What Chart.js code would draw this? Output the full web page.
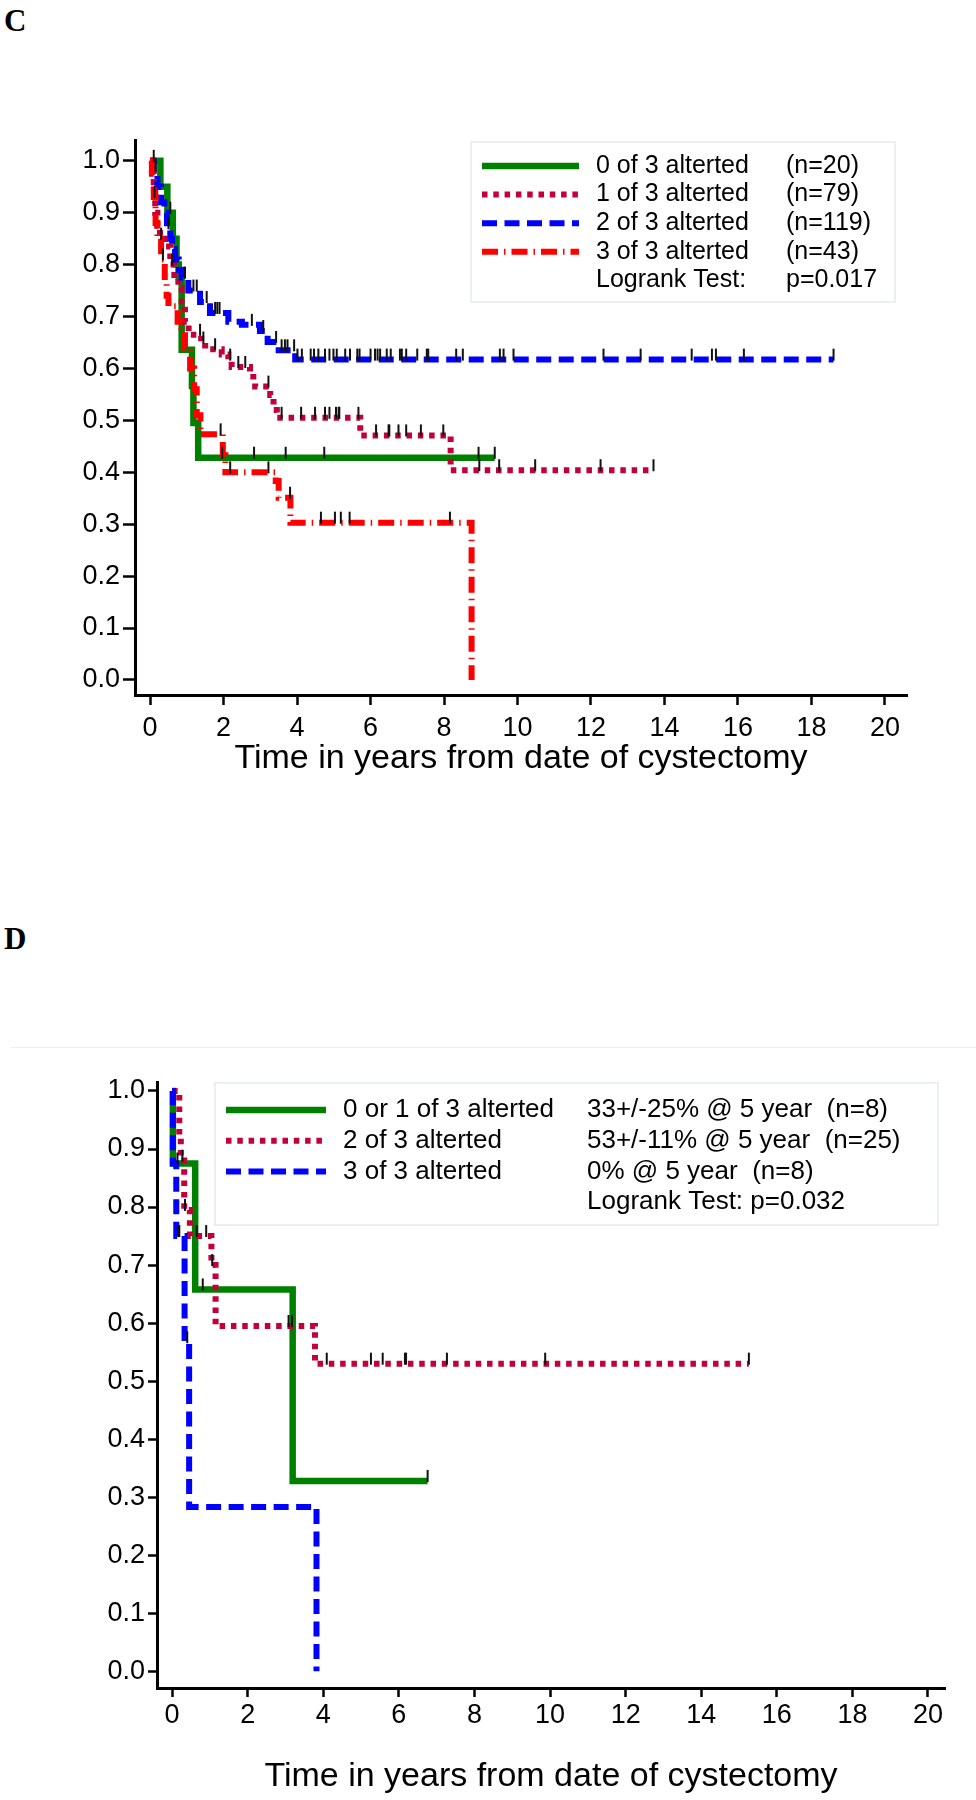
<!DOCTYPE html>
<html>
<head>
<meta charset="utf-8">
<script src="https://cdn.jsdelivr.net/npm/chart.js@4.4.0/dist/chart.umd.min.js"></script>
<style>
  body { margin: 0; background: #fff; }
  #page { position: relative; width: 976px; height: 1800px; background: #fff; overflow: hidden; }
  canvas { position: absolute; left: 0; }
  .panel { position: absolute; left: 4px; font: bold 31px "Liberation Serif", "Times New Roman", serif; color: #000; line-height: 1; }
  .rule { position: absolute; left: 11px; right: 0; top: 1047px; height: 1px; background: #eeeeee; }
</style>
</head>
<body>
<div id="page">
  <div class="panel" style="top:5px">C</div>
  <canvas id="chartC" width="976" height="900" style="top:0"></canvas>
  <div class="panel" style="top:923px">D</div>
  <div class="rule"></div>
  <canvas id="chartD" width="976" height="800" style="top:1000px"></canvas>
</div>
<script>
const FONT = '"Liberation Sans", Arial, Helvetica, sans-serif';

// axis ticks
const yTicks = [0, 0.1, 0.2, 0.3, 0.4, 0.5, 0.6, 0.7, 0.8, 0.9, 1.0];
const xTicks = [0, 2, 4, 6, 8, 10, 12, 14, 16, 18, 20];
const xTitle = "Time in years from date of cystectomy";

// panel C
const cGroups = ["0 of 3 alterted", "1 of 3 alterted", "2 of 3 alterted", "3 of 3 alterted"];
const cCounts = ["(n=20)", "(n=79)", "(n=119)", "(n=43)"];
const cTest = ["Logrank Test:", "p=0.017"];

const c0Time = [0, 0.28, 0.47, 0.62, 0.72, 0.78, 0.86, 1.14, 1.18, 1.31, 9.38];
const c0Surv = [1.0, 0.95, 0.90, 0.85, 0.80, 0.776, 0.636, 0.566, 0.495, 0.428, 0.428];
const c0Cens = [0.1, 0.55, 1.96, 2.83, 3.69, 4.74, 8.94, 9.38];

const c1Time = [0, 0.05, 0.1, 0.14, 0.2, 0.27, 0.4, 0.55, 0.66, 0.77, 0.86, 0.95, 1.05, 1.39, 1.5, 1.95, 2.13, 2.22, 2.72, 2.81, 2.86, 3.27, 3.36, 3.45, 5.72, 8.18, 13.7];
const c1Surv = [1.0, 0.975, 0.95, 0.90, 0.875, 0.85, 0.835, 0.80, 0.78, 0.755, 0.72, 0.69, 0.665, 0.65, 0.637, 0.627, 0.617, 0.603, 0.59, 0.578, 0.565, 0.549, 0.52, 0.505, 0.471, 0.404, 0.404];
const c1Cens = [0.3, 0.6, 1.36, 1.45, 1.77, 2.18, 2.4, 2.59, 3.22, 3.58, 4.11, 4.49, 4.76, 4.88, 5.06, 5.13, 5.15, 5.67, 6.15, 6.49, 6.51, 6.76, 6.97, 7.37, 7.98, 8.96, 9.5, 10.48, 12.26, 13.7];

const c2Time = [0, 0.1, 0.2, 0.3, 0.39, 0.46, 0.55, 0.6, 0.68, 0.78, 0.86, 1.04, 1.36, 1.63, 2.13, 2.5, 2.99, 3.2, 3.5, 3.95, 18.6];
const c2Surv = [1.0, 0.98, 0.95, 0.92, 0.90, 0.87, 0.85, 0.83, 0.81, 0.79, 0.775, 0.75, 0.728, 0.707, 0.69, 0.684, 0.672, 0.651, 0.635, 0.617, 0.617];
const c2Cens = [0.15, 0.5, 0.95, 1.18, 1.27, 1.54, 1.77, 1.83, 1.89, 2.77, 3.08, 3.43, 3.58, 3.67, 3.74, 3.92, 4.01, 4.13, 4.37, 4.46, 4.58, 4.76, 4.88, 4.99, 5.08, 5.31, 5.44, 5.64, 5.70, 6.0, 6.12, 6.19, 6.26, 6.44, 6.55, 6.80, 6.85, 6.97, 7.27, 7.53, 7.57, 8.33, 8.51, 9.52, 9.62, 9.89, 12.34, 13.35, 14.74, 15.29, 15.4, 16.16, 18.6];

const c3Time = [0, 0.05, 0.1, 0.15, 0.2, 0.3, 0.4, 0.45, 0.5, 0.75, 0.85, 0.95, 1.09, 1.2, 1.27, 1.37, 1.98, 2.05, 3.42, 3.5, 3.82, 8.75];
const c3Surv = [1.0, 0.97, 0.93, 0.88, 0.85, 0.81, 0.77, 0.74, 0.72, 0.69, 0.67, 0.64, 0.60, 0.56, 0.51, 0.473, 0.433, 0.40, 0.383, 0.351, 0.303, 0.0];
const c3Cens = [0.12, 0.35, 1.92, 2.18, 3.22, 3.81, 4.65, 5.03, 5.19, 5.43, 8.16];

// panel D
const dGroups = ["0 or 1 of 3 alterted", "2 of 3 alterted", "3 of 3 alterted"];
const dRates = ["33+/-25% @ 5 year  (n=8)", "53+/-11% @ 5 year  (n=25)", "0% @ 5 year  (n=8)"];
const dTest = "Logrank Test: p=0.032";

const d0Time = [0, 0.02, 0.61, 3.19, 6.76];
const d0Surv = [1.0, 0.875, 0.658, 0.328, 0.328];
const d0Cens = [0.14, 0.81, 6.76];

const d1Time = [0, 0.19, 0.23, 0.32, 0.47, 1.04, 1.15, 3.78, 15.26];
const d1Surv = [1.0, 0.92, 0.88, 0.795, 0.75, 0.70, 0.595, 0.53, 0.53];
const d1Cens = [0.27, 0.34, 0.65, 0.9, 1.06, 3.08, 3.17, 4.09, 5.26, 5.57, 6.16, 6.19, 7.27, 9.87, 15.26];

const d2Time = [0, 0.02, 0.11, 0.33, 0.45, 3.82];
const d2Surv = [1.0, 0.875, 0.75, 0.567, 0.283, 0.0];
const d2Cens = [0.16, 0.19, 0.4];

// line looks
const GREEN = { color: "#008000", width: 6.5, dash: [] };
const CRIMSON = { color: "#c2003a", width: 6, dash: [5.5, 5.8] };
const BLUE = { color: "#0000ff", width: 6, dash: [15, 7.5] };
const RED = { color: "#ff0000", width: 6, dash: [16, 6, 1.5, 6] };

// censor mark: short black stroke sitting on top of the curve
const tick = document.createElement("canvas");
tick.width = 4;
tick.height = 26;
const tctx = tick.getContext("2d");
tctx.fillStyle = "#111";
tctx.fillRect(1, 2, 2, 12);

function curve(t, s) {
  return t.map((x, i) => ({ x: x, y: s[i] }));
}

function survAt(t, s, x) {
  let v = s[0];
  for (let i = 0; i < t.length; i++) if (t[i] <= x) v = s[i];
  return v;
}

function marks(c, t, s) {
  return c.map(x => ({ x: x, y: survAt(t, s, x) }));
}

function buildDatasets(groups) {
  const ds = groups.map((g, i) => ({
    data: curve(g.t, g.s),
    borderColor: g.look.color,
    borderWidth: g.look.width,
    borderDash: g.look.dash,
    borderCapStyle: "butt",
    stepped: "before",
    pointRadius: 0,
    fill: false,
    order: 10 - i
  }));
  groups.forEach(g => ds.push({
    data: marks(g.c, g.t, g.s),
    showLine: false,
    pointStyle: tick,
    pointRadius: 5,
    order: 0
  }));
  return ds;
}

function legendPlugin(L) {
  return {
    id: "kmLegend",
    afterDraw(chart) {
      const ctx = chart.ctx;
      ctx.save();
      ctx.strokeStyle = "#e1ebee";
      ctx.lineWidth = 1.5;
      ctx.strokeRect(L.box.x, L.box.y, L.box.w, L.box.h);
      ctx.font = L.fontSize + "px " + FONT;
      ctx.fillStyle = "#000";
      ctx.textBaseline = "middle";
      L.rows.forEach((row, i) => {
        const y = L.rowY + i * L.rowGap;
        if (row.ds !== undefined) {
          const ds = chart.data.datasets[row.ds];
          ctx.save();
          ctx.strokeStyle = ds.borderColor;
          ctx.lineWidth = ds.borderWidth;
          ctx.lineCap = "butt";
          ctx.setLineDash(ds.borderDash || []);
          ctx.beginPath();
          ctx.moveTo(L.lineX0, y);
          ctx.lineTo(L.lineX1, y);
          ctx.stroke();
          ctx.restore();
        }
        if (row.a) ctx.fillText(row.a, L.col1, y);
        if (row.b) ctx.fillText(row.b, L.col2, y);
      });
      ctx.restore();
    }
  };
}

function buildScales(p) {
  const axisGrid = (len) => ({
    display: true, drawOnChartArea: false, drawTicks: true,
    tickLength: len, tickWidth: 2.5, tickColor: "#000", color: "#000"
  });
  return {
    x: {
      type: "linear", min: p.xMin, max: p.xMax,
      afterBuildTicks: a => { a.ticks = xTicks.map(v => ({ value: v })); },
      afterFit: s => { s.height = p.xH; },
      border: { display: true, color: "#000", width: 3 },
      grid: axisGrid(p.xTL),
      ticks: { color: "#000", font: { family: FONT, size: 27 }, padding: p.xPad, maxRotation: 0, autoSkip: false, callback: v => String(v) },
      title: { display: true, text: xTitle, color: "#000", font: { family: FONT, size: 34 }, padding: { top: 0, bottom: p.titlePad } }
    },
    y: {
      type: "linear", min: p.yMin, max: p.yMax,
      afterBuildTicks: a => { a.ticks = yTicks.map(v => ({ value: v })); },
      afterFit: s => { s.width = p.yW; },
      border: { display: true, color: "#000", width: 3 },
      grid: axisGrid(p.yTL),
      ticks: { color: "#000", font: { family: FONT, size: 27 }, padding: p.yPad, autoSkip: false, callback: v => v.toFixed(1) }
    }
  };
}

function makeChart(id, groups, p, legend) {
  return new Chart(document.getElementById(id), {
    type: "line",
    data: { datasets: buildDatasets(groups) },
    options: {
      responsive: false,
      animation: false,
      devicePixelRatio: 1,
      layout: { padding: { top: p.padTop, right: p.padRight, left: 0, bottom: 0 } },
      plugins: { legend: { display: false }, tooltip: { enabled: false } },
      scales: buildScales(p)
    },
    plugins: [legendPlugin(legend)]
  });
}

makeChart("chartC", [
  { t: c0Time, s: c0Surv, c: c0Cens, look: GREEN },
  { t: c1Time, s: c1Surv, c: c1Cens, look: CRIMSON },
  { t: c2Time, s: c2Surv, c: c2Cens, look: BLUE },
  { t: c3Time, s: c3Surv, c: c3Cens, look: RED }
], {
  xMin: -0.41, xMax: 20.6, yMin: -0.029, yMax: 1.04,
  padTop: 140, padRight: 69, xH: 205, yW: 135,
  xTL: 10, xPad: 7, yTL: 12, yPad: 3, titlePad: 121
}, {
  box: { x: 471, y: 142, w: 424, h: 160 },
  rowY: 166, rowGap: 28.6, lineX0: 482, lineX1: 579, col1: 596, col2: 786, fontSize: 25,
  rows: [
    { ds: 0, a: cGroups[0], b: cCounts[0] },
    { ds: 1, a: cGroups[1], b: cCounts[1] },
    { ds: 2, a: cGroups[2], b: cCounts[2] },
    { ds: 3, a: cGroups[3], b: cCounts[3] },
    { a: cTest[0], b: cTest[1] }
  ]
});

makeChart("chartD", [
  { t: d0Time, s: d0Surv, c: d0Cens, look: GREEN },
  { t: d1Time, s: d1Surv, c: d1Cens, look: CRIMSON },
  { t: d2Time, s: d2Surv, c: d2Cens, look: BLUE }
], {
  xMin: -0.40, xMax: 20.45, yMin: -0.029, yMax: 1.0155,
  padTop: 82, padRight: 31, xH: 112, yW: 157,
  xTL: 9, xPad: 2, yTL: 9, yPad: 3, titlePad: 3
}, {
  box: { x: 215, y: 83, w: 723, h: 142 },
  rowY: 110, rowGap: 30.7, lineX0: 226, lineX1: 326, col1: 343, col2: 587, fontSize: 26,
  rows: [
    { ds: 0, a: dGroups[0], b: dRates[0] },
    { ds: 1, a: dGroups[1], b: dRates[1] },
    { ds: 2, a: dGroups[2], b: dRates[2] },
    { b: dTest }
  ]
});
</script>
</body>
</html>
